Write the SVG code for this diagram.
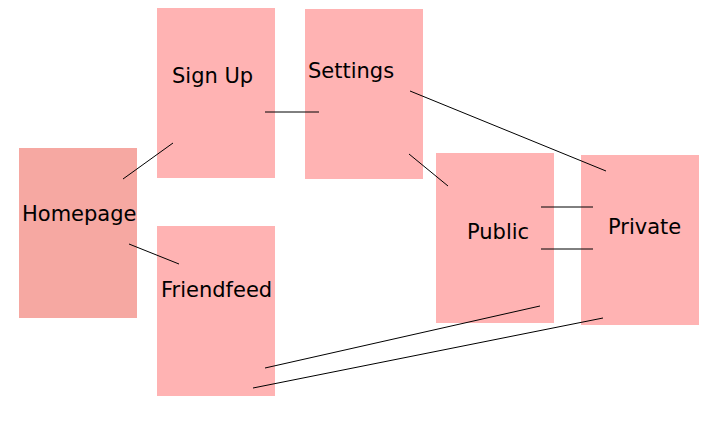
<svg xmlns="http://www.w3.org/2000/svg" width="721" height="426" viewBox="0 0 721 426">
<style>
.box{fill:#ffb3b3}
.home{fill:#f6a8a2}
.lbl{font-family:"DejaVu Sans",Verdana,sans-serif;font-size:21px;fill:#000}
.c line{stroke:#000;stroke-width:1}
</style>
<rect width="721" height="426" fill="#fff"/>
<g id="homepage"><rect class="home" x="19" y="148" width="118" height="170"/><text class="lbl" x="22" y="221">Homepage</text></g>
<g id="signup"><rect class="box" x="157" y="8" width="118" height="170"/><text class="lbl" x="172" y="83">Sign Up</text></g>
<g id="settings"><rect class="box" x="305" y="9" width="118" height="170"/><text class="lbl" x="308" y="78">Settings</text></g>
<g id="friendfeed"><rect class="box" x="157" y="226" width="118" height="170"/><text class="lbl" x="161" y="297">Friendfeed</text></g>
<g id="public"><rect class="box" x="436" y="153" width="118" height="170"/><text class="lbl" x="467" y="239">Public</text></g>
<g id="private"><rect class="box" x="581" y="155" width="118" height="170"/><text class="lbl" x="608" y="234">Private</text></g>
<g id="connectors" class="c">
<line x1="123" y1="179" x2="173" y2="143"/>
<line x1="265" y1="112" x2="319" y2="112"/>
<line x1="410" y1="91" x2="606" y2="171"/>
<line x1="409" y1="154" x2="448" y2="186"/>
<line x1="129" y1="244" x2="179" y2="264"/>
<line x1="541" y1="207" x2="593" y2="207"/>
<line x1="541" y1="249" x2="593" y2="249"/>
<line x1="265" y1="368" x2="540" y2="306"/>
<line x1="253" y1="388" x2="603" y2="318"/>
</g>
</svg>
